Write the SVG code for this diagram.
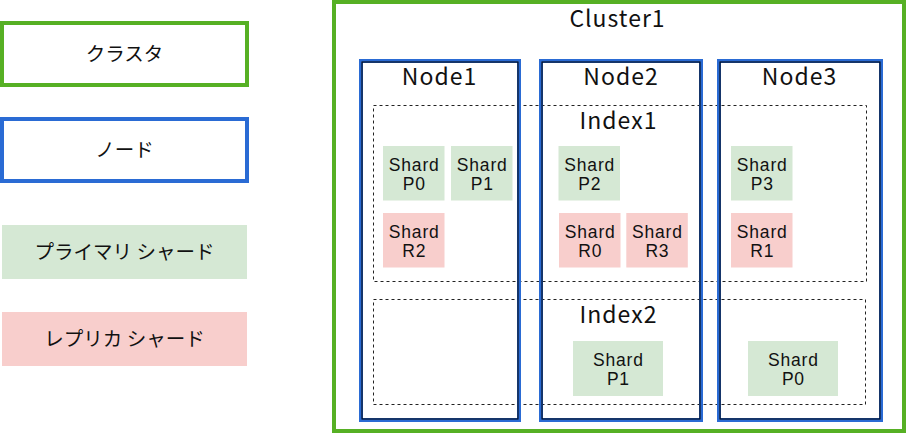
<svg xmlns="http://www.w3.org/2000/svg" width="906" height="433" viewBox="0 0 906 433">
<style>
text{font-family:"Noto Sans CJK JP","Noto Sans",sans-serif;fill:#111;text-anchor:middle}
.big{font-size:23px;letter-spacing:1px}
.leg{font-size:19.5px}
.sh{font-family:"Liberation Sans",Arial,sans-serif;font-size:17.5px;letter-spacing:0.8px}
.green{fill:none;stroke:#56b024;stroke-width:4}
.nodeo{fill:none;stroke:#2a6bd4;stroke-width:4}
.nodei{fill:none;stroke:#000;stroke-width:1}
.idx{fill:none;stroke:#222;stroke-width:1;stroke-dasharray:3 3}
.p{fill:#d5e8d4}
.r{fill:#f8cecc}
</style>
<g id="legend-cluster"><rect class="green" x="2" y="23" width="245" height="62"/><text class="leg" x="124.5" y="61">クラスタ</text></g>
<g id="legend-node"><rect class="nodeo" x="2" y="119" width="245" height="62"/><text class="leg" x="124.5" y="157">ノード</text></g>
<g id="legend-primary"><rect class="p" x="2" y="225" width="245" height="54"/><text class="leg" x="124.5" y="259">プライマリ シャード</text></g>
<g id="legend-replica"><rect class="r" x="2" y="312" width="245" height="54"/><text class="leg" x="124.5" y="346">レプリカ シャード</text></g>
<g id="cluster1"><rect class="green" x="334" y="2" width="570" height="429"/><text class="big" x="617.5" y="27">Cluster1</text></g>
<g id="index1"><rect class="idx" x="373.5" y="105.5" width="493" height="176"/><text class="big" x="618.5" y="129">Index1</text></g>
<g id="index2"><rect class="idx" x="373.5" y="299.5" width="492" height="105"/><text class="big" x="618.5" y="323">Index2</text></g>
<g id="node1"><rect class="nodeo" x="361" y="61" width="158" height="359"/><rect class="nodei" x="362" y="62" width="156" height="357"/><text class="big" x="439.5" y="85">Node1</text></g>
<g id="node2"><rect class="nodeo" x="541" y="61" width="160" height="359"/><rect class="nodei" x="542" y="62" width="158" height="357"/><text class="big" x="621" y="85">Node2</text></g>
<g id="node3"><rect class="nodeo" x="719" y="61" width="162" height="359"/><rect class="nodei" x="720" y="62" width="160" height="357"/><text class="big" x="799.5" y="85">Node3</text></g>
<g id="i1-p0"><rect class="p" x="383" y="146" width="61.5" height="54.5"/><text class="sh" x="414.2" y="170.5">Shard<tspan x="414.2" dy="19.5">P0</tspan></text></g>
<g id="i1-p1"><rect class="p" x="451" y="146" width="61.5" height="54.5"/><text class="sh" x="482.2" y="170.5">Shard<tspan x="482.2" dy="19.5">P1</tspan></text></g>
<g id="i1-p2"><rect class="p" x="558.5" y="146" width="61.5" height="54.5"/><text class="sh" x="589.7" y="170.5">Shard<tspan x="589.7" dy="19.5">P2</tspan></text></g>
<g id="i1-p3"><rect class="p" x="731" y="146" width="61.5" height="54.5"/><text class="sh" x="762.2" y="170.5">Shard<tspan x="762.2" dy="19.5">P3</tspan></text></g>
<g id="i1-r2"><rect class="r" x="383" y="213" width="61.5" height="54.5"/><text class="sh" x="414.2" y="237.5">Shard<tspan x="414.2" dy="19.5">R2</tspan></text></g>
<g id="i1-r0"><rect class="r" x="559" y="213" width="61.5" height="54.5"/><text class="sh" x="590.2" y="237.5">Shard<tspan x="590.2" dy="19.5">R0</tspan></text></g>
<g id="i1-r3"><rect class="r" x="626.3" y="213" width="61.5" height="54.5"/><text class="sh" x="657.4" y="237.5">Shard<tspan x="657.4" dy="19.5">R3</tspan></text></g>
<g id="i1-r1"><rect class="r" x="731" y="213" width="61.5" height="54.5"/><text class="sh" x="762.2" y="237.5">Shard<tspan x="762.2" dy="19.5">R1</tspan></text></g>
<g id="i2-p1"><rect class="p" x="573" y="341" width="90" height="55"/><text class="sh" x="618.4" y="365.5">Shard<tspan x="618.4" dy="19.5">P1</tspan></text></g>
<g id="i2-p0"><rect class="p" x="748" y="341" width="90" height="55"/><text class="sh" x="793.4" y="365.5">Shard<tspan x="793.4" dy="19.5">P0</tspan></text></g>
<g id="connectors"></g>
</svg>
